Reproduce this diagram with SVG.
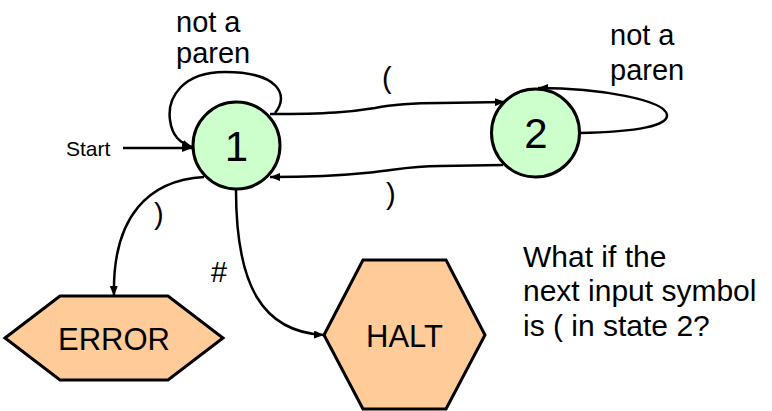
<svg xmlns="http://www.w3.org/2000/svg" width="772" height="411" viewBox="0 0 772 411">
  <defs>
    <marker id="arrow" viewBox="0 0 10 8" refX="10" refY="4" markerWidth="10" markerHeight="8" markerUnits="userSpaceOnUse" orient="auto">
      <path d="M0,0 L10,4 L0,8 Z" fill="#000"/>
    </marker>
    <style>
      text { font-family: "Liberation Sans", Arial, sans-serif; fill: #000; }
      .state { fill: #ccffcc; stroke: #000; stroke-width: 3; }
      .stop { fill: #ffcc99; stroke: #000; stroke-width: 3; }
      .edge { fill: none; stroke: #000; stroke-width: 2.5; marker-end: url(#arrow); }
      .lbl { font-size: 29px; }
      .num { font-size: 42px; text-anchor: middle; }
      .big { font-size: 31px; text-anchor: middle; }
    </style>
  </defs>

  <rect width="772" height="411" fill="#fff"/>

  <!-- transitions -->
  <g id="connectors">
    <line class="edge" x1="123" y1="148" x2="192" y2="148"/>
    <path class="edge" d="M275,113 C290,95 278,72 225,72 C182,72 167,98 170,120 C172,136 180,143 192,147"/>
    <path class="edge" d="M270,114 C330,114 350,112 375,108 C395,104 410,103 440,103 L505,102"/>
    <path class="edge" d="M503,165 L440,166 C410,166 395,170 375,172 C355,174 330,177 270,177"/>
    <path class="edge" d="M579,133 C640,132 668,125 667,115 C665,100 600,88 538,88"/>
    <path class="edge" d="M204,177 C150,180 112,215 114,296"/>
    <path class="edge" d="M236,190 C236,285 262,332 324,335"/>
  </g>

  <!-- transition labels -->
  <g id="labels">
    <text x="66" y="156" style="font-size:21px">Start</text>
    <text class="lbl" x="176" y="32">not a</text>
    <text class="lbl" x="176" y="63">paren</text>
    <text class="lbl" x="610" y="45">not a</text>
    <text class="lbl" x="610" y="80">paren</text>
    <text class="lbl" x="382" y="88">(</text>
    <text class="lbl" x="386" y="204">)</text>
    <text class="lbl" x="154" y="224">)</text>
    <text class="lbl" x="211" y="282">#</text>
  </g>

  <g id="state-1">
    <circle class="state" cx="236.5" cy="145.5" r="43.5"/>
    <text class="num" x="236.5" y="161">1</text>
  </g>

  <g id="state-2">
    <circle class="state" cx="535.5" cy="133" r="44"/>
    <text class="num" x="536" y="148">2</text>
  </g>

  <g id="error">
    <polygon class="stop" points="5,338 60,296 168,296 223,338 168,380 60,380"/>
    <text class="big" x="114" y="350">ERROR</text>
  </g>

  <g id="halt">
    <polygon class="stop" points="324,335 363,260 446,260 485,335 446,409 363,409"/>
    <text class="big" x="404.5" y="347">HALT</text>
  </g>

  <g id="question">
    <text x="523" y="267" style="font-size:30px">What if the</text>
    <text x="523" y="301" style="font-size:30px">next input symbol</text>
    <text x="523" y="336" style="font-size:30px">is ( in state 2?</text>
  </g>
</svg>
